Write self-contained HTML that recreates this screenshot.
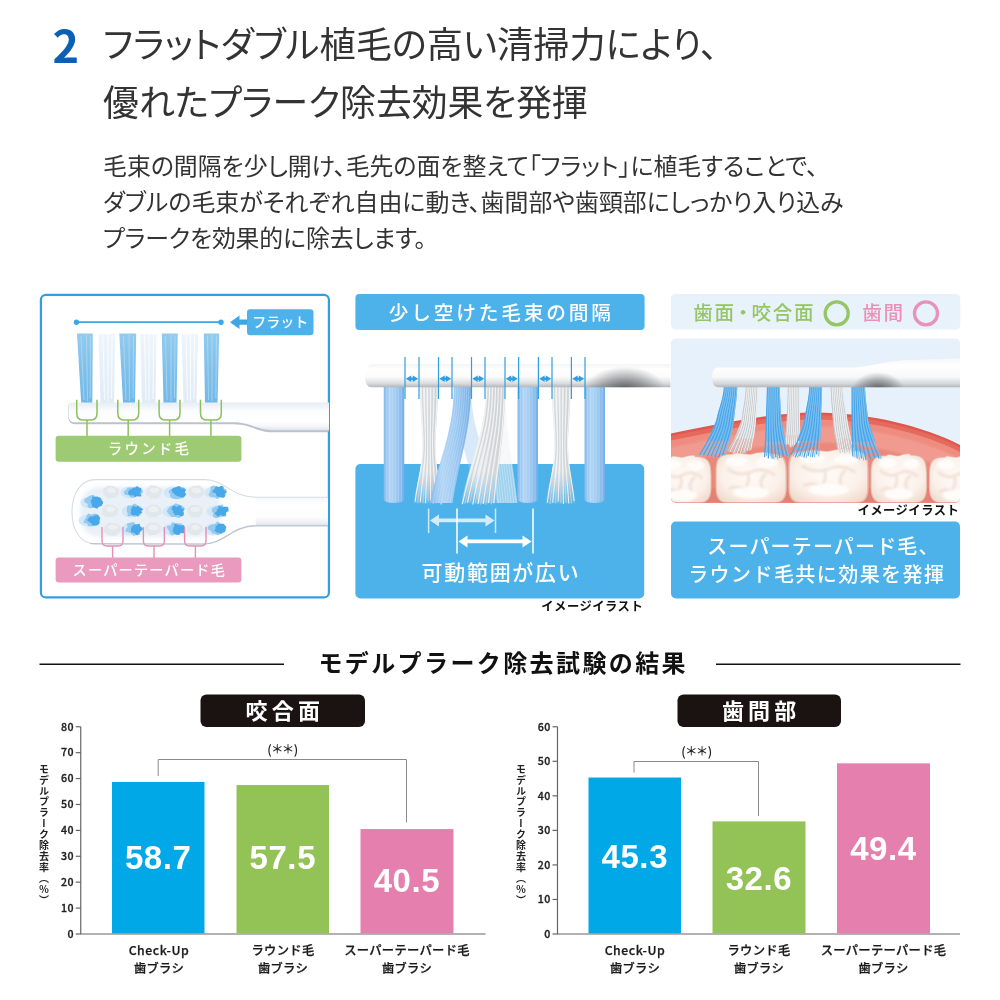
<!DOCTYPE html>
<html lang="ja">
<head>
<meta charset="utf-8">
<title>フラットダブル植毛</title>
<style>
html,body{margin:0;padding:0;background:#fff;}
body{width:1000px;height:1000px;position:relative;overflow:hidden;font-family:"Liberation Sans","Noto Sans CJK JP",sans-serif;color:#333;}
.abs{position:absolute;white-space:nowrap;}
.jp{font-family:"Noto Sans CJK JP","Liberation Sans",sans-serif;}
#num{left:52.5px;top:9.6px;font-size:45px;font-weight:700;color:#0b5fb4;line-height:68px;font-family:"Noto Sans CJK JP",sans-serif;}
.ttl{left:103px;font-size:35.8px;line-height:50px;color:#333;font-family:"Noto Sans CJK JP",sans-serif;font-feature-settings:"palt";}
.body{left:103px;font-size:23.9px;line-height:38px;color:#333;font-family:"Noto Sans CJK JP",sans-serif;font-feature-settings:"palt";}
svg{position:absolute;left:0;top:0;}
svg text{font-family:"Noto Sans CJK JP","Liberation Sans",sans-serif;}
</style>
</head>
<body>
<div class="abs" id="num">2</div>
<div class="abs ttl" style="top:16.5px;font-size:36.2px">フラットダブル植毛の高い清掃力により、</div>
<div class="abs ttl" style="top:74.6px">優れたプラーク除去効果を発揮</div>
<div class="abs body" style="top:146px">毛束の間隔を少し開け、毛先の面を整えて「フラット」に植毛することで、</div>
<div class="abs body" style="top:182px;letter-spacing:0.06px">ダブルの毛束がそれぞれ自由に動き、歯間部や歯頸部にしっかり入り込み</div>
<div class="abs body" style="top:218px;letter-spacing:-0.16px">プラークを効果的に除去します。</div>
<svg id="art" width="1000" height="1000" viewBox="0 0 1000 1000">
<!--P1S--><defs>
<linearGradient id="gBlueT" x1="0" y1="0" x2="0" y2="1"><stop offset="0" stop-color="#93cbee"/><stop offset="0.5" stop-color="#7fc0ea"/><stop offset="1" stop-color="#72b8e7"/></linearGradient>
<linearGradient id="gWhiteT" x1="0" y1="0" x2="0" y2="1"><stop offset="0" stop-color="#eef5fb"/><stop offset="1" stop-color="#dfebf6"/></linearGradient>
<linearGradient id="gHead1" x1="0" y1="0" x2="0" y2="1"><stop offset="0" stop-color="#e6edf5"/><stop offset="0.3" stop-color="#fbfcfe"/><stop offset="0.7" stop-color="#ffffff"/><stop offset="0.88" stop-color="#f1f4f8"/><stop offset="1" stop-color="#dfe5ec"/></linearGradient>
<filter id="fBlur1" x="-10%" y="-50%" width="120%" height="200%"><feGaussianBlur stdDeviation="1.4"/></filter>
<filter id="fBlur05" x="-10%" y="-10%" width="120%" height="120%"><feGaussianBlur stdDeviation="0.5"/></filter>
</defs>
<!-- panel 1 -->
<g id="panel1">
<rect x="40.9" y="294.8" width="288" height="302.6" rx="5" ry="5" fill="#fff" stroke="#2f9fe2" stroke-width="2.2"/>
<!-- flat indicator -->
<line x1="76.5" y1="322.2" x2="221" y2="322.2" stroke="#3ea6e3" stroke-width="1.8"/>
<circle cx="76.5" cy="322.2" r="2.7" fill="#3ea6e3"/><circle cx="221" cy="322.2" r="2.7" fill="#3ea6e3"/>
<path d="M230 322.2 L239.5 315.5 L239.5 319.6 L248 319.6 L248 324.8 L239.5 324.8 L239.5 328.9 Z" fill="#3ea6e3"/>
<rect x="247" y="309.2" width="66.5" height="26" rx="3.2" fill="#4db2e9"/>
<text x="280.3" y="327.3" font-size="14" font-weight="500" fill="#fff" text-anchor="middle" letter-spacing="0">フラット</text>
<!-- tufts -->
<g filter="url(#fBlur05)">
<path d="M98.5 334.5 L115.2 333.5 L114 403 L100.5 403 Z" fill="url(#gWhiteT)"/>
<path d="M140.2 334 L156.6 334.5 L155.5 403 L142 403 Z" fill="url(#gWhiteT)"/>
<path d="M181.5 334.5 L198 333.8 L196.5 403 L183.5 403 Z" fill="url(#gWhiteT)"/>
<path d="M77 333.5 L92.8 333.5 L92.3 403 L81.2 403 Z" fill="url(#gBlueT)"/>
<path d="M119.3 333.5 L136.2 333.5 L135 403 L123 403 Z" fill="url(#gBlueT)"/>
<path d="M161.8 333.5 L177.8 333.5 L176.5 403 L163.5 403 Z" fill="url(#gBlueT)"/>
<path d="M203.8 333.5 L219.2 333.5 L217.5 403 L205 403 Z" fill="url(#gBlueT)"/>
<g stroke="#b9def5" stroke-width="0.9" opacity="0.75" fill="none">
<path d="M81 336 L84 400 M86.5 335 L87.5 401 M90.5 336 L90.2 398"/>
<path d="M123.5 336 L126 400 M129 335 L129.5 401 M133.5 336 L133 398"/>
<path d="M165.5 336 L167 400 M171 335 L171 401 M175 336 L174.5 398"/>
<path d="M207.5 336 L208.5 400 M212 335 L212 401 M216.5 336 L215.8 398"/>
</g>
<g stroke="#ffffff" stroke-width="1" opacity="0.8" fill="none">
<path d="M103 335 L104.5 400 M108 334 L108 401 M112 335 L111.5 399"/>
<path d="M144.5 335 L146 400 M149 334 L149 401 M153.5 335 L153 399"/>
<path d="M186 335 L187.5 400 M190.5 334 L190.5 401 M194.5 335 L194 399"/>
</g>
</g>
<!-- head -->
<path d="M72.5 403.6 L329 403.6 L329 432.3 L272 432.3 C258 432.3 250 424.3 234 424.3 L75 424.3 C70 424.3 68 420 68 415 L68 408 C68 405 69.5 403.6 72.5 403.6 Z" fill="#aab4c0" opacity="0.8" filter="url(#fBlur05)"/>
<path d="M72.5 402.6 L329 402.6 L329 430.2 L272 430.2 C258 430.2 250 422.3 234 422.3 L75 422.3 C70 422.3 68.4 419 68.4 414 L68.4 407 C68.4 404 69.5 402.6 72.5 402.6 Z" fill="url(#gHead1)"/>
<!-- green brackets -->
<g fill="none" stroke="#8dc05e" stroke-width="1.5">
<path d="M76.7 399.8 V413.2 Q76.7 420.1 83.5 420.1 H90.2 Q97 420.1 97 413.2 V399.8 M87 420.1 V436"/>
<path d="M117.8 399.8 V413.2 Q117.8 420.1 124.6 420.1 H131.9 Q138.7 420.1 138.7 413.2 V399.8 M128.2 420.1 V436"/>
<path d="M159.1 399.8 V413.2 Q159.1 420.1 165.9 420.1 H173.2 Q180 420.1 180 413.2 V399.8 M169.6 420.1 V436"/>
<path d="M200.5 399.8 V413.2 Q200.5 420.1 207.3 420.1 H214.5 Q221.3 420.1 221.3 413.2 V399.8 M210.9 420.1 V436"/>
</g>
<rect x="55.6" y="435.8" width="185.8" height="26" rx="3" fill="#9dca72"/>
<text x="149.5" y="453.6" font-size="14.5" font-weight="500" fill="#fff" text-anchor="middle" letter-spacing="2.2">ラウンド毛</text>
</g>
<!--P1BS--><g id="panel1b">
<defs>
<linearGradient id="gNeck2" x1="0" y1="0" x2="0" y2="1"><stop offset="0" stop-color="#f3f6f9"/><stop offset="0.25" stop-color="#ffffff"/><stop offset="0.7" stop-color="#fdfdfe"/><stop offset="1" stop-color="#e4e9ef"/></linearGradient>
<filter id="fB04" x="-20%" y="-20%" width="140%" height="140%"><feGaussianBlur stdDeviation="0.45"/></filter>
<filter id="fB12" x="-20%" y="-20%" width="140%" height="140%"><feGaussianBlur stdDeviation="1.2"/></filter>
<filter id="fB2" x="-20%" y="-20%" width="140%" height="140%"><feGaussianBlur stdDeviation="2.2"/></filter>
<clipPath id="cpHead2"><path d="M96 479.6 L205 479.6 C224 479.6 232 497.2 254 497.2 L328 497.2 L328 525.4 L254 525.4 C232 525.4 224 544 203 544 L96 544 C80 544 72 530 72 512 C72 494 80 479.6 96 479.6 Z"/></clipPath>
</defs>
<rect x="236" y="497.2" width="92" height="28.2" fill="url(#gNeck2)"/>
<path d="M96 479.6 L205 479.6 C224 479.6 232 497.2 256 497.2 L256 525.4 C232 525.4 224 544 203 544 L96 544 C80 544 72 530 72 512 C72 494 80 479.6 96 479.6 Z" fill="#ffffff"/>
<g clip-path="url(#cpHead2)">
<path d="M100 487 L201 487 C213 487 222 497 222 512 C222 527 213 537 201 537 L100 537 C87 537 80 527 80 512 C80 497 87 487 100 487 Z" fill="#eaf0f7" filter="url(#fB2)"/>
</g>
<path d="M328 497.2 L256 497.2 C232 497.2 224 479.6 205 479.6 L96 479.6 C80 479.6 72 494 72 512 C72 530 80 544 96 544 L203 544 C224 544 232 525.4 256 525.4 L328 525.4" fill="none" stroke="#d3dbe4" stroke-width="1.1"/>
<path d="M90 543.6 L203 544.2 C224 544.2 232 525.8 256 525.8 L328 525.8" fill="none" stroke="#b4bfcb" stroke-width="1.2" opacity="0.8" filter="url(#fB04)"/>
<g filter="url(#fB04)">
<polygon points="118.7,494.6 114.1,497.9 107.6,498.4 103.6,494.4 103.0,489.3 107.8,485.8 114.1,486.2 119.0,489.4" fill="#e2e7eb"/>
<polygon points="115.8,490.5 114.6,492.8 110.5,493.0 107.5,491.6 107.1,489.2 110.3,487.3 114.3,488.4" fill="#edf0f3"/>
<polygon points="161.6,494.5 157.3,498.4 150.4,498.7 145.9,494.6 146.2,489.4 150.5,485.2 157.1,486.2 162.4,489.3" fill="#e2e7eb"/>
<polygon points="159.2,490.5 157.3,492.6 153.5,493.1 150.3,491.7 149.6,489.1 153.5,487.9 157.7,488.1" fill="#edf0f3"/>
<polygon points="204.1,494.7 199.2,498.2 192.6,498.3 188.6,494.4 188.6,489.5 192.9,486.0 199.4,485.6 203.9,489.5" fill="#e2e7eb"/>
<polygon points="201.2,490.5 199.7,492.9 195.4,493.4 192.3,491.7 191.6,489.1 195.3,487.4 199.4,488.3" fill="#edf0f3"/>
<polygon points="118.0,513.7 113.2,517.3 106.4,517.6 101.7,513.7 102.3,508.4 106.5,504.2 113.1,505.1 117.9,508.5" fill="#e2e7eb"/>
<polygon points="115.9,509.5 113.3,511.6 109.4,512.4 106.6,510.6 105.8,508.1 109.3,506.3 113.7,507.1" fill="#edf0f3"/>
<polygon points="161.4,513.8 156.1,517.1 149.5,517.5 144.9,513.6 145.0,508.3 149.8,504.7 156.5,504.4 161.5,508.3" fill="#e2e7eb"/>
<polygon points="158.5,509.5 156.8,512.0 152.5,512.0 148.7,510.9 148.8,508.1 152.2,506.1 156.9,506.9" fill="#edf0f3"/>
<polygon points="202.6,513.6 198.2,517.2 191.6,517.4 187.6,513.4 187.1,508.4 191.9,505.0 198.1,505.1 202.4,508.6" fill="#e2e7eb"/>
<polygon points="200.9,509.5 198.3,511.6 194.5,512.2 191.1,510.8 190.5,508.1 194.5,506.9 198.6,507.2" fill="#edf0f3"/>
<polygon points="120.0,531.7 115.4,535.7 108.5,535.6 103.6,531.7 104.4,526.4 108.8,522.8 115.3,522.9 120.5,526.3" fill="#e2e7eb"/>
<polygon points="118.2,527.5 115.3,529.6 111.5,530.1 108.4,528.7 108.4,526.3 111.4,524.6 115.7,525.1" fill="#edf0f3"/>
<polygon points="160.6,531.5 156.0,534.8 149.7,535.2 145.2,531.5 145.0,526.3 149.5,522.2 156.5,522.5 161.0,526.4" fill="#e2e7eb"/>
<polygon points="158.7,527.5 156.8,530.0 152.5,530.0 148.5,529.0 148.6,526.1 152.3,524.2 156.9,524.9" fill="#edf0f3"/>
<polygon points="202.8,531.6 198.2,535.2 191.9,534.9 186.9,531.6 187.6,526.5 192.0,523.1 198.2,523.0 202.5,526.6" fill="#e2e7eb"/>
<polygon points="200.3,527.5 198.2,529.5 194.6,530.0 191.5,528.7 191.5,526.4 194.4,524.7 198.2,525.5" fill="#edf0f3"/>
<ellipse cx="129.5" cy="492.5" rx="9" ry="6" fill="#cfe7f8" opacity="0.9"/>
<polygon points="143.0,492.0 141.3,494.5 138.2,495.7 136.2,497.1 133.5,497.8 130.6,497.4 128.9,495.6 124.8,494.8 123.5,492.0 126.2,489.6 127.9,487.6 131.1,487.4 133.5,487.0 136.3,486.6 138.5,488.1 142.1,489.2" fill="#8cc8f0" opacity="0.9"/>
<polygon points="140.7,492.0 140.0,493.3 141.8,496.2 139.0,496.6 136.6,496.0 134.7,497.3 133.6,495.2 131.0,495.4 128.3,494.3 128.2,492.0 129.3,490.0 131.7,489.1 132.9,487.9 134.9,487.9 137.1,486.0 139.0,487.4 141.3,488.1 141.0,490.4" fill="#4aa8e9"/>
<ellipse cx="172.5" cy="492.5" rx="9" ry="6" fill="#cfe7f8" opacity="0.9"/>
<polygon points="183.4,492.0 185.0,494.8 183.5,497.5 180.1,498.8 176.5,499.3 173.0,498.7 170.2,497.0 170.1,494.1 168.4,492.0 169.6,489.8 172.2,488.6 174.2,487.6 176.5,486.4 179.2,486.9 182.7,487.1 185.6,489.0" fill="#8cc8f0" opacity="0.9"/>
<polygon points="184.8,492.0 186.2,494.2 184.9,496.3 182.7,497.7 179.8,496.7 177.9,496.3 176.2,495.8 174.9,494.7 174.0,493.5 172.1,492.0 171.6,489.8 173.1,488.0 175.7,487.6 177.6,486.4 180.1,486.0 181.1,488.6 184.0,488.3 186.1,489.8" fill="#4aa8e9"/>
<ellipse cx="213.5" cy="492.5" rx="9" ry="6" fill="#cfe7f8" opacity="0.9"/>
<polygon points="226.6,492.0 225.8,494.7 223.1,496.4 220.1,496.9 217.5,499.2 214.7,497.3 211.0,497.1 208.4,495.0 209.9,492.0 210.5,489.7 210.6,486.6 214.1,485.5 217.5,486.7 220.0,487.3 222.2,488.3 226.4,489.1" fill="#8cc8f0" opacity="0.9"/>
<polygon points="227.1,492.0 224.4,493.4 225.5,496.0 223.8,497.8 221.0,497.6 218.8,496.7 216.6,496.6 216.1,494.6 215.7,493.3 211.8,492.0 213.5,490.1 215.0,488.6 215.9,486.3 218.8,487.1 221.1,485.7 223.5,486.6 223.7,489.2 224.8,490.5" fill="#4aa8e9"/>
<ellipse cx="130.5" cy="511.5" rx="9" ry="6" fill="#cfe7f8" opacity="0.9"/>
<polygon points="141.7,511.0 140.9,513.1 140.4,515.6 137.2,516.1 134.5,517.0 132.0,515.7 127.7,516.4 127.6,513.2 126.7,511.0 126.8,508.5 127.7,505.6 131.6,505.4 134.5,503.4 137.6,505.2 140.2,506.5 142.0,508.6" fill="#8cc8f0" opacity="0.9"/>
<polygon points="141.2,511.0 142.4,512.7 140.6,513.7 139.0,514.2 138.1,517.0 135.9,515.1 133.7,515.4 131.4,514.8 130.8,512.8 131.2,511.0 130.9,509.2 131.9,507.5 133.2,505.7 136.0,507.1 137.9,505.7 139.4,507.2 140.9,508.1 143.6,508.9" fill="#4aa8e9"/>
<ellipse cx="171.5" cy="511.5" rx="9" ry="6" fill="#cfe7f8" opacity="0.9"/>
<polygon points="183.5,511.0 183.1,513.5 181.9,516.0 179.2,518.0 175.5,517.1 172.3,517.1 169.8,515.5 168.1,513.4 166.7,511.0 168.3,508.6 169.7,506.5 172.5,505.2 175.5,503.3 178.9,504.6 182.2,505.7 184.5,508.1" fill="#8cc8f0" opacity="0.9"/>
<polygon points="183.1,511.0 183.8,512.8 183.8,515.2 181.5,516.4 178.6,515.0 177.0,515.0 174.8,515.3 174.3,513.5 172.9,512.5 173.2,511.0 171.4,509.0 172.2,507.1 174.0,505.4 176.9,506.9 179.0,505.2 181.2,506.1 181.5,508.4 185.0,508.8" fill="#4aa8e9"/>
<ellipse cx="215.5" cy="511.5" rx="9" ry="6" fill="#cfe7f8" opacity="0.9"/>
<polygon points="229.4,511.0 225.9,513.1 226.4,516.5 222.4,516.5 219.5,517.3 215.7,518.2 212.9,516.2 213.4,513.0 211.8,511.0 212.1,508.6 214.3,506.9 216.9,506.1 219.5,505.3 222.9,504.5 223.8,507.6 227.1,508.5" fill="#8cc8f0" opacity="0.9"/>
<polygon points="227.8,511.0 225.9,512.3 226.1,514.0 225.1,515.8 222.9,516.2 221.0,514.8 217.8,516.8 216.2,514.9 214.3,513.3 217.1,511.0 216.8,509.5 218.4,508.6 218.2,505.7 220.9,506.6 222.6,507.0 224.8,506.7 227.7,506.8 228.7,508.9" fill="#4aa8e9"/>
<ellipse cx="129.5" cy="529.5" rx="9" ry="6" fill="#cfe7f8" opacity="0.9"/>
<polygon points="140.5,529.0 139.6,531.0 140.3,534.4 136.7,535.0 133.5,535.9 131.1,533.6 129.1,532.5 125.4,531.6 125.8,529.0 127.7,527.1 126.6,523.6 130.2,522.8 133.5,521.7 135.9,524.4 140.2,523.8 139.3,527.1" fill="#8cc8f0" opacity="0.9"/>
<polygon points="143.3,529.0 141.5,530.7 140.1,532.0 139.0,533.6 137.2,535.4 134.9,533.4 133.4,532.5 131.0,532.4 130.9,530.5 131.1,529.0 131.2,527.6 132.3,526.6 133.3,525.3 134.8,524.5 136.8,524.5 139.4,523.8 140.0,526.1 141.6,527.2" fill="#4aa8e9"/>
<ellipse cx="171.5" cy="529.5" rx="9" ry="6" fill="#cfe7f8" opacity="0.9"/>
<polygon points="182.2,529.0 182.3,531.2 179.8,532.4 178.2,534.1 175.5,533.8 172.1,535.5 169.7,533.6 169.3,531.0 167.6,529.0 166.5,526.1 171.0,525.4 172.0,522.3 175.5,522.9 178.6,523.2 182.1,523.8 182.5,526.7" fill="#8cc8f0" opacity="0.9"/>
<polygon points="184.0,529.0 184.3,531.0 183.9,533.3 180.6,533.1 179.1,535.1 176.6,534.8 174.4,533.9 173.3,532.2 172.5,530.6 173.3,529.0 173.3,527.6 174.3,526.5 174.3,523.8 176.9,524.6 178.7,524.9 180.1,525.6 183.5,525.0 184.9,526.8" fill="#4aa8e9"/>
<ellipse cx="213.5" cy="529.5" rx="9" ry="6" fill="#cfe7f8" opacity="0.9"/>
<polygon points="226.2,529.0 224.1,531.1 222.4,532.9 220.2,534.2 217.5,535.2 215.0,533.8 212.0,533.3 211.0,531.1 207.7,529.0 208.4,526.0 211.7,524.4 214.8,523.9 217.5,521.2 220.3,523.7 222.8,524.9 223.0,527.2" fill="#8cc8f0" opacity="0.9"/>
<polygon points="225.6,529.0 225.5,530.8 224.6,532.3 222.3,532.7 220.9,534.1 219.0,532.6 217.1,532.9 216.2,531.5 214.3,530.7 215.3,529.0 215.6,527.7 215.6,526.1 217.2,525.2 218.7,523.6 220.9,523.8 223.4,523.8 225.0,525.3 226.4,527.0" fill="#4aa8e9"/>
<ellipse cx="89.5" cy="502.5" rx="9" ry="6" fill="#cfe7f8" opacity="0.9"/>
<polygon points="103.0,502.0 100.5,504.3 98.7,506.1 97.3,509.2 93.5,507.2 90.1,508.5 87.4,506.8 87.8,503.9 84.2,502.0 84.7,499.1 87.5,497.3 90.1,495.5 93.5,494.7 96.0,497.2 99.2,497.5 100.9,499.6" fill="#8cc8f0" opacity="0.9"/>
<polygon points="103.2,502.0 102.7,504.1 101.5,506.0 99.1,506.7 97.1,508.3 94.6,507.7 92.3,507.0 91.8,504.8 91.6,503.3 91.0,502.0 90.5,500.4 92.2,499.4 92.1,496.6 94.7,496.7 97.0,496.5 99.1,497.2 101.1,498.3 101.6,500.2" fill="#4aa8e9"/>
<ellipse cx="87.5" cy="520.5" rx="9" ry="6" fill="#cfe7f8" opacity="0.9"/>
<polygon points="97.5,520.0 100.0,522.8 97.9,525.0 94.6,525.8 91.5,526.4 88.2,526.3 87.1,523.5 83.2,522.7 84.5,520.0 85.7,518.1 86.5,516.1 88.1,513.5 91.5,514.6 94.9,513.5 98.5,514.5 98.9,517.6" fill="#8cc8f0" opacity="0.9"/>
<polygon points="99.6,520.0 99.6,521.8 99.1,523.7 97.4,525.2 95.0,525.5 92.6,525.6 91.5,523.4 90.1,522.6 88.8,521.5 86.7,520.0 88.7,518.4 88.9,516.5 91.6,516.8 93.0,516.2 94.7,515.6 97.2,515.0 99.1,516.3 100.2,518.0" fill="#4aa8e9"/>
</g>
<g fill="none" stroke="#e58fb6" stroke-width="1.4">
<path d="M102.0 527 V541 Q102.0 546 107.0 546 H118.0 Q123.0 546 123.0 541 V527 M112.6 546 V558"/>
<path d="M143.4 527 V541 Q143.4 546 148.4 546 H159.4 Q164.4 546 164.4 541 V527 M154.0 546 V558"/>
<path d="M184.6 527 V541 Q184.6 546 189.6 546 H201.0 Q206.0 546 206.0 541 V527 M195.4 546 V558"/>
</g>
<rect x="55.6" y="557.4" width="185.8" height="25.2" rx="3" fill="#ea9abf"/>
<text x="149.3" y="575.2" font-size="14.2" font-weight="500" fill="#fff" text-anchor="middle" letter-spacing="1.2">スーパーテーパード毛</text>
</g>
<!--P1BE-->
<!--P2S--><g id="panel2">
<defs>
<linearGradient id="gBS" x1="0" y1="0" x2="1" y2="0"><stop offset="0" stop-color="#86bbed"/><stop offset="0.3" stop-color="#b3d5f5"/><stop offset="0.6" stop-color="#a0cbf2"/><stop offset="1" stop-color="#74aee8"/></linearGradient>
<linearGradient id="gWS" x1="0" y1="0" x2="1" y2="0"><stop offset="0" stop-color="#dfe1e3"/><stop offset="0.4" stop-color="#eeeff0"/><stop offset="0.7" stop-color="#dcdee0"/><stop offset="1" stop-color="#cfd2d5"/></linearGradient>
<linearGradient id="gFade" x1="0" y1="386" x2="0" y2="504" gradientUnits="userSpaceOnUse"><stop offset="0" stop-color="#fff"/><stop offset="0.72" stop-color="#fff"/><stop offset="1" stop-color="#222"/></linearGradient>
<mask id="mFade" maskUnits="userSpaceOnUse" x="400" y="380" width="200" height="130"><rect x="400" y="380" width="200" height="130" fill="url(#gFade)"/></mask>
<linearGradient id="gBar" x1="0" y1="0" x2="0" y2="1"><stop offset="0" stop-color="#f1f2f3"/><stop offset="0.2" stop-color="#ffffff"/><stop offset="0.55" stop-color="#fbfbfb"/><stop offset="0.82" stop-color="#dcdee0"/><stop offset="1" stop-color="#b3b6b9"/></linearGradient>
<radialGradient id="gShadow" cx="0.5" cy="0.5" r="0.5"><stop offset="0" stop-color="#4a4e52" stop-opacity="0.8"/><stop offset="0.6" stop-color="#4a4e52" stop-opacity="0.35"/><stop offset="1" stop-color="#4a4e52" stop-opacity="0"/></radialGradient>
</defs>
<rect x="355.4" y="294" width="289.2" height="36" rx="4" fill="#4cb2e9"/>
<text x="501.3" y="319.6" font-size="19.7" font-weight="500" fill="#fff" text-anchor="middle" letter-spacing="2.8">少し空けた毛束の間隔</text>
<rect x="355.4" y="464" width="288.8" height="134.4" rx="5" fill="#4cb2e9"/>
<path d="M454.5 386 L471.0 386 C471.0 431.0 486.4 453.0 499.0 503.0 L478.0 503.0 C467.4 453.0 454.5 431.0 454.5 386 Z" fill="#a9cff3" opacity="0.45"/>
<path d="M487.0 386 L505.0 386 C505.0 431.0 511.9 453.0 517.5 503.0 L497.0 503.0 C492.5 453.0 487.0 431.0 487.0 386 Z" fill="#edf0f3" opacity="0.5"/>
<g fill="none" stroke="#ffffff" stroke-width="0.7" opacity="0.45"><path d="M488.1 386 C488.1 431.0 493.7 453.0 498.3 503.0"/><path d="M490.4 386 C490.4 431.0 496.1 453.0 500.8 503.0"/><path d="M492.6 386 C492.6 431.0 498.6 453.0 503.4 503.0"/><path d="M494.9 386 C494.9 431.0 501.0 453.0 506.0 503.0"/><path d="M497.1 386 C497.1 431.0 503.4 453.0 508.5 503.0"/><path d="M499.4 386 C499.4 431.0 505.8 453.0 511.1 503.0"/><path d="M501.6 386 C501.6 431.0 508.2 453.0 513.7 503.0"/><path d="M503.9 386 C503.9 431.0 510.7 453.0 516.2 503.0"/></g>
<path d="M383.75 386 H404.25 V499 Q404.25 503 394.00 503 Q383.75 503 383.75 499 Z" fill="url(#gBS)"/>
<g stroke="#d3e7fa" stroke-width="0.6" opacity="0.55"><path d="M386.7 387 V501"/><path d="M389.6 387 V501"/><path d="M392.5 387 V501"/><path d="M395.5 387 V501"/><path d="M398.4 387 V501"/><path d="M401.3 387 V501"/></g>
<path d="M517.50 386 H538.00 V499 Q538.00 503 527.75 503 Q517.50 503 517.50 499 Z" fill="url(#gBS)"/>
<g stroke="#d3e7fa" stroke-width="0.6" opacity="0.55"><path d="M520.4 387 V501"/><path d="M523.4 387 V501"/><path d="M526.3 387 V501"/><path d="M529.2 387 V501"/><path d="M532.1 387 V501"/><path d="M535.1 387 V501"/></g>
<path d="M584.50 386 H605.00 V499 Q605.00 503 594.75 503 Q584.50 503 584.50 499 Z" fill="url(#gBS)"/>
<g stroke="#d3e7fa" stroke-width="0.6" opacity="0.55"><path d="M587.4 387 V501"/><path d="M590.4 387 V501"/><path d="M593.3 387 V501"/><path d="M596.2 387 V501"/><path d="M599.1 387 V501"/><path d="M602.1 387 V501"/></g>
<path d="M420.00 386 H438.00 C438.00 415 435.50 430 435.50 445 C435.50 470 440.50 485 442.50 503.5 L413.75 503.5 C415.75 485 422.50 470 422.50 445 C422.50 430 420.00 415 420.00 386 Z" fill="url(#gWS)" mask="url(#mFade)"/>
<g fill="none" stroke="#f3f4f5" stroke-width="1.0"><path d="M420.8 386 C420.8 411.0 423.1 427.0 423.1 445.0 S417.9 479.8 415.1 501.8"/><path d="M424.1 386 C424.1 411.0 425.5 427.0 425.5 445.0 S422.1 480.3 420.3 502.3"/><path d="M427.4 386 C427.4 411.0 427.8 427.0 427.8 445.0 S426.3 481.2 425.5 503.2"/><path d="M430.6 386 C430.6 411.0 430.2 427.0 430.2 445.0 S430.5 479.0 430.7 501.0"/><path d="M433.9 386 C433.9 411.0 432.5 427.0 432.5 445.0 S434.8 479.9 436.0 501.9"/><path d="M437.2 386 C437.2 411.0 434.9 427.0 434.9 445.0 S439.0 482.5 441.2 504.5"/></g>
<g fill="none" stroke="#cdd0d3" stroke-width="0.9"><path d="M422.5 386 C422.5 411.0 424.3 427.0 424.3 445.0 S420.0 480.9 417.7 502.9"/><path d="M425.7 386 C425.7 411.0 426.6 427.0 426.6 445.0 S424.2 481.1 422.9 503.1"/><path d="M429.0 386 C429.0 411.0 429.0 427.0 429.0 445.0 S428.4 479.2 428.1 501.2"/><path d="M432.3 386 C432.3 411.0 431.4 427.0 431.4 445.0 S432.7 481.9 433.4 503.9"/><path d="M435.5 386 C435.5 411.0 433.7 427.0 433.7 445.0 S436.9 479.8 438.6 501.8"/></g>
<path d="M552.00 386 H570.50 C570.50 415 568.00 430 568.00 445 C568.00 470 573.50 485 575.50 503.5 L546.00 503.5 C548.00 485 554.50 470 554.50 445 C554.50 430 552.00 415 552.00 386 Z" fill="url(#gWS)" mask="url(#mFade)"/>
<g fill="none" stroke="#f3f4f5" stroke-width="1.0"><path d="M552.8 386 C552.8 411.0 555.1 427.0 555.1 445.0 S550.1 480.6 547.3 502.6"/><path d="M556.2 386 C556.2 411.0 557.6 427.0 557.6 445.0 S554.4 480.7 552.7 502.7"/><path d="M559.6 386 C559.6 411.0 560.0 427.0 560.0 445.0 S558.8 479.5 558.1 501.5"/><path d="M562.9 386 C562.9 411.0 562.5 427.0 562.5 445.0 S563.1 482.0 563.4 504.0"/><path d="M566.3 386 C566.3 411.0 564.9 427.0 564.9 445.0 S567.4 481.6 568.8 503.6"/><path d="M569.7 386 C569.7 411.0 567.4 427.0 567.4 445.0 S571.8 479.2 574.2 501.2"/></g>
<g fill="none" stroke="#cdd0d3" stroke-width="0.9"><path d="M554.5 386 C554.5 411.0 556.3 427.0 556.3 445.0 S552.2 481.9 550.0 503.9"/><path d="M557.9 386 C557.9 411.0 558.8 427.0 558.8 445.0 S556.6 481.2 555.4 503.2"/><path d="M561.2 386 C561.2 411.0 561.2 427.0 561.2 445.0 S560.9 481.2 560.8 503.2"/><path d="M564.6 386 C564.6 411.0 563.7 427.0 563.7 445.0 S565.3 480.8 566.1 502.8"/><path d="M568.0 386 C568.0 411.0 566.2 427.0 566.2 445.0 S569.6 481.3 571.5 503.3"/></g>
<path d="M453.8 386 L471.0 386 C471.0 431.0 460.8 453.0 452.5 503.0 L430.0 503.0 C440.7 453.0 453.8 431.0 453.8 386 Z" fill="url(#gBS)"/>
<g fill="none" stroke="#d3e7fa" stroke-width="0.6" opacity="0.6"><path d="M455.9 386 C455.9 431.0 443.2 453.0 432.8 503.0"/><path d="M458.1 386 C458.1 431.0 445.7 453.0 435.6 503.0"/><path d="M460.2 386 C460.2 431.0 448.2 453.0 438.4 503.0"/><path d="M462.4 386 C462.4 431.0 450.8 453.0 441.2 503.0"/><path d="M464.5 386 C464.5 431.0 453.3 453.0 444.1 503.0"/><path d="M466.7 386 C466.7 431.0 455.8 453.0 446.9 503.0"/><path d="M468.8 386 C468.8 431.0 458.3 453.0 449.7 503.0"/></g>
<path d="M486.0 386 L505.0 386 C505.0 431.0 499.5 453.5 495.0 503.5 L461.0 503.5 C472.2 453.5 486.0 431.0 486.0 386 Z" fill="url(#gWS)" mask="url(#mFade)"/>
<g fill="none" stroke="#f3f4f5" stroke-width="1.1"><path d="M486.7 386 C486.7 431.0 473.3 454.2 462.3 504.2"/><path d="M489.7 386 C489.7 431.0 477.5 452.6 467.5 502.6"/><path d="M492.6 386 C492.6 431.0 481.7 454.5 472.8 504.5"/><path d="M495.5 386 C495.5 431.0 485.9 454.0 478.0 504.0"/><path d="M498.4 386 C498.4 431.0 490.1 454.0 483.2 504.0"/><path d="M501.3 386 C501.3 431.0 494.3 452.9 488.5 502.9"/><path d="M504.3 386 C504.3 431.0 498.5 453.1 493.7 503.1"/></g>
<g fill="none" stroke="#cdd0d3" stroke-width="0.9"><path d="M488.2 386 C488.2 431.0 475.4 453.6 464.9 503.6"/><path d="M491.1 386 C491.1 431.0 479.6 451.6 470.2 501.6"/><path d="M494.0 386 C494.0 431.0 483.8 453.2 475.4 503.2"/><path d="M497.0 386 C497.0 431.0 488.0 454.6 480.6 504.6"/><path d="M499.9 386 C499.9 431.0 492.2 454.7 485.8 504.7"/><path d="M502.8 386 C502.8 431.0 496.4 454.3 491.1 504.3"/></g>
<clipPath id="cpBar2"><path d="M372 364.2 H670.5 V387.3 H372 C366.5 387.3 365 382 365 376 C365 370 366.5 364.2 372 364.2 Z"/></clipPath>
<path d="M372 364.2 H670.5 V387.3 H372 C366.5 387.3 365 382 365 376 C365 370 366.5 364.2 372 364.2 Z" fill="url(#gBar)"/>
<g clip-path="url(#cpBar2)"><ellipse cx="625" cy="388.5" rx="40" ry="22" fill="url(#gShadow)"/></g>
<g stroke="#2f9fe2" stroke-width="1.2" fill="#2f9fe2">
<path d="M405.0 357 V399 M419.0 357 V399" fill="none"/>
<path d="M405.8 378.7 L411.2 375.4 L411.2 377.4 L412.8 377.4 L412.8 375.4 L418.2 378.7 L412.8 382.0 L412.8 380.0 L411.2 380.0 L411.2 382.0 Z" stroke="none"/>
<path d="M438.5 357 V399 M452.0 357 V399" fill="none"/>
<path d="M439.3 378.7 L444.7 375.4 L444.7 377.4 L445.8 377.4 L445.8 375.4 L451.2 378.7 L445.8 382.0 L445.8 380.0 L444.7 380.0 L444.7 382.0 Z" stroke="none"/>
<path d="M471.5 357 V399 M485.0 357 V399" fill="none"/>
<path d="M472.3 378.7 L477.7 375.4 L477.7 377.4 L478.8 377.4 L478.8 375.4 L484.2 378.7 L478.8 382.0 L478.8 380.0 L477.7 380.0 L477.7 382.0 Z" stroke="none"/>
<path d="M505.0 357 V399 M518.6 357 V399" fill="none"/>
<path d="M505.8 378.7 L511.2 375.4 L511.2 377.4 L512.4 377.4 L512.4 375.4 L517.8 378.7 L512.4 382.0 L512.4 380.0 L511.2 380.0 L511.2 382.0 Z" stroke="none"/>
<path d="M538.4 357 V399 M552.0 357 V399" fill="none"/>
<path d="M539.2 378.7 L544.6 375.4 L544.6 377.4 L545.8 377.4 L545.8 375.4 L551.2 378.7 L545.8 382.0 L545.8 380.0 L544.6 380.0 L544.6 382.0 Z" stroke="none"/>
<path d="M571.4 357 V399 M585.0 357 V399" fill="none"/>
<path d="M572.2 378.7 L577.6 375.4 L577.6 377.4 L578.8 377.4 L578.8 375.4 L584.2 378.7 L578.8 382.0 L578.8 380.0 L577.6 380.0 L577.6 382.0 Z" stroke="none"/>
</g>
<path d="M428.6 508.4 V533 M495.5 508.4 V533" stroke="#fff" stroke-width="1.5" opacity="0.72"/>
<path d="M430.0 520.4 L439.0 514.4 L439.0 518.5 L485.5 518.5 L485.5 514.4 L494.5 520.4 L485.5 526.4 L485.5 522.3 L439.0 522.3 L439.0 526.4 Z" fill="#fff" opacity="0.75"/>
<path d="M457 508.4 V553.4 M533 508.4 V553.4" stroke="#fff" stroke-width="1.5"/>
<path d="M458.5 541.4 L467.5 535.4 L467.5 539.5 L522.5 539.5 L522.5 535.4 L531.5 541.4 L522.5 547.4 L522.5 543.3 L467.5 543.3 L467.5 547.4 Z" fill="#fff" opacity="1"/>
<text x="501" y="579.6" font-size="21" font-weight="500" fill="#fff" text-anchor="middle" letter-spacing="1.7">可動範囲が広い</text>
<text x="643.2" y="610.8" font-size="12.3" font-weight="700" fill="#111" text-anchor="end" letter-spacing="0.5">イメージイラスト</text>
</g>
<!--P2E-->
<!--P3S--><g id="panel3">
<defs>
<clipPath id="cp3"><rect x="671" y="338.3" width="289" height="164.1" rx="5"/></clipPath>
<linearGradient id="gGum" x1="0" y1="0" x2="0" y2="1"><stop offset="0" stop-color="#e45d52"/><stop offset="0.4" stop-color="#ec7c6e"/><stop offset="1" stop-color="#f5ab9c"/></linearGradient>
<radialGradient id="gTooth" cx="0.5" cy="0.45" r="0.65"><stop offset="0" stop-color="#fffaf6"/><stop offset="0.65" stop-color="#fbf1ea"/><stop offset="1" stop-color="#f1dacd"/></radialGradient>
<linearGradient id="gBar3" x1="0" y1="0" x2="0" y2="1"><stop offset="0" stop-color="#f6f7f8"/><stop offset="0.25" stop-color="#ffffff"/><stop offset="0.65" stop-color="#f8f8f8"/><stop offset="0.88" stop-color="#d4d6d8"/><stop offset="1" stop-color="#b4b7ba"/></linearGradient>
</defs>
<rect x="671" y="294" width="289.3" height="35.6" rx="4.5" fill="#e8f2fb"/>
<text x="693.3" y="319.6" font-size="19.6" font-weight="500" fill="#96c566" letter-spacing="1.6">歯面</text>
<text x="743" y="319.6" font-size="19.6" font-weight="500" fill="#96c566" text-anchor="middle">・</text>
<text x="751.6" y="319.6" font-size="19.6" font-weight="500" fill="#96c566" letter-spacing="1.6">咬合面</text>
<circle cx="836.7" cy="313.4" r="11.5" fill="none" stroke="#96c566" stroke-width="3.3"/>
<text x="862.3" y="319.6" font-size="19.6" font-weight="500" fill="#e992b9" letter-spacing="1.6">歯間</text>
<circle cx="926" cy="313.4" r="11.5" fill="none" stroke="#e992b9" stroke-width="3.3"/>
<g clip-path="url(#cp3)">
<rect x="671" y="338.3" width="289" height="164.1" fill="#e6f1fb"/>
<path d="M671 433.5 C715 425.0 770 412.6 815 412.6 C870 412.6 925 427.0 960 445.0 V504 H671 Z" fill="#dd594d"/>
<path d="M671 436.0 C715 427.5 770 415.1 815 415.1 C870 415.1 925 429.5 960 447.5 V504 H671 Z" fill="#e5695d"/>
<path d="M671 440.5 C715 432.0 770 419.6 815 419.6 C870 419.6 925 434.0 960 452.0 V504 H671 Z" fill="#ef8c80" filter="url(#fB04)"/>
<path d="M671 447.5 C715 439.0 770 426.6 815 426.6 C870 426.6 925 441.0 960 459.0 V504 H671 Z" fill="#f19b90" filter="url(#fB12)"/>
<path d="M671 463.5 C715 455.0 770 442.6 815 442.6 C870 442.6 925 457.0 960 475.0 V504 H671 Z" fill="#ec877b" filter="url(#fB12)"/>
<rect x="671" y="488" width="289" height="16" fill="#e77f72"/>
<g>
<path d="M655.0 475.3 C655.0 461.5 658.0 456.5 670.8 457.0 C673.6 454.0 678.7 458.0 683.2 457.0 C688.9 455.0 694.5 454.0 695.7 456.5 C708.5 456.5 711.5 461.5 711.5 475.3 V488 C711.5 498 707.5 503 699.5 503 H667.0 C659.0 503 655.0 498 655.0 488 Z" fill="#e4bfae"/>
<path d="M655.0 475.3 C655.0 461.5 658.0 456.5 670.8 457.0 C673.6 454.0 678.7 458.0 683.2 457.0 C688.9 455.0 694.5 454.0 695.7 456.5 C708.5 456.5 711.5 461.5 711.5 475.3 V488 C711.5 498 707.5 503 699.5 503 H667.0 C659.0 503 655.0 498 655.0 488 Z" fill="url(#gTooth)" transform="translate(23.91,14.41) scale(0.965,0.97)"/>
<path d="M715.5 472.5 C715.5 458.5 718.5 453.5 731.5 454.0 C739.0 451.0 745.4 455.0 751.1 454.0 C758.3 452.0 765.4 451.0 770.8 453.5 C783.8 453.5 786.8 458.5 786.8 472.5 V488 C786.8 498 782.8 503 774.8 503 H727.5 C719.5 503 715.5 498 715.5 488 Z" fill="#e4bfae"/>
<path d="M715.5 472.5 C715.5 458.5 718.5 453.5 731.5 454.0 C739.0 451.0 745.4 455.0 751.1 454.0 C758.3 452.0 765.4 451.0 770.8 453.5 C783.8 453.5 786.8 458.5 786.8 472.5 V488 C786.8 498 782.8 503 774.8 503 H727.5 C719.5 503 715.5 498 715.5 488 Z" fill="url(#gTooth)" transform="translate(26.29,14.32) scale(0.965,0.97)"/>
<path d="M788.4 469.5 C788.4 455.5 791.4 450.5 804.4 451.0 C814.9 448.0 822.1 452.0 828.5 451.0 C836.5 449.0 844.5 448.0 852.6 450.5 C865.6 450.5 868.6 455.5 868.6 469.5 V488 C868.6 498 864.6 503 856.6 503 H800.4 C792.4 503 788.4 498 788.4 488 Z" fill="#e4bfae"/>
<path d="M788.4 469.5 C788.4 455.5 791.4 450.5 804.4 451.0 C814.9 448.0 822.1 452.0 828.5 451.0 C836.5 449.0 844.5 448.0 852.6 450.5 C865.6 450.5 868.6 455.5 868.6 469.5 V488 C868.6 498 864.6 503 856.6 503 H800.4 C792.4 503 788.4 498 788.4 488 Z" fill="url(#gTooth)" transform="translate(29.00,14.23) scale(0.965,0.97)"/>
<path d="M870.6 473.8 C870.6 460.0 873.6 455.0 886.4 455.5 C889.2 452.5 894.3 456.5 898.8 455.5 C904.4 453.5 910.1 452.5 911.2 455.0 C924.0 455.0 927.0 460.0 927.0 473.8 V488 C927.0 498 923.0 503 915.0 503 H882.6 C874.6 503 870.6 498 870.6 488 Z" fill="#e4bfae"/>
<path d="M870.6 473.8 C870.6 460.0 873.6 455.0 886.4 455.5 C889.2 452.5 894.3 456.5 898.8 455.5 C904.4 453.5 910.1 452.5 911.2 455.0 C924.0 455.0 927.0 460.0 927.0 473.8 V488 C927.0 498 923.0 503 915.0 503 H882.6 C874.6 503 870.6 498 870.6 488 Z" fill="url(#gTooth)" transform="translate(31.46,14.37) scale(0.965,0.97)"/>
<path d="M929.0 475.2 C929.0 461.5 932.0 456.5 944.7 457.0 C947.5 454.0 952.5 458.0 957.0 457.0 C962.6 455.0 968.2 454.0 969.3 456.5 C982.0 456.5 985.0 461.5 985.0 475.2 V488 C985.0 498 981.0 503 973.0 503 H941.0 C933.0 503 929.0 498 929.0 488 Z" fill="#e4bfae"/>
<path d="M929.0 475.2 C929.0 461.5 932.0 456.5 944.7 457.0 C947.5 454.0 952.5 458.0 957.0 457.0 C962.6 455.0 968.2 454.0 969.3 456.5 C982.0 456.5 985.0 461.5 985.0 475.2 V488 C985.0 498 981.0 503 973.0 503 H941.0 C933.0 503 929.0 498 929.0 488 Z" fill="url(#gTooth)" transform="translate(33.50,14.41) scale(0.965,0.97)"/>
</g>
<g filter="url(#fB12)" fill="none" stroke="#ecd6c9" stroke-width="2.8" stroke-linecap="round" opacity="0.65">
<path d="M665.2 472.5 q8.5 7 16.9 3 q9.6 -6 19.2 2 M680.4 475.5 q3 8 -3 17 M694.5 477.5 q-7 5 -3 15 M666.3 491.5 q5.7 -4 12.4 2"/>
<path d="M728.3 469.5 q10.7 7 21.4 3 q12.1 -6 24.2 2 M747.6 472.5 q3 8 -3 17 M765.4 474.5 q-7 5 -3 15 M729.8 488.5 q7.1 -4 15.7 2"/>
<path d="M802.8 466.5 q12.0 7 24.1 3 q13.6 -6 27.3 2 M824.5 469.5 q3 8 -3 17 M844.5 471.5 q-7 5 -3 15 M804.4 485.5 q8.0 -4 17.6 2"/>
<path d="M880.8 471.0 q8.5 7 16.9 3 q9.6 -6 19.2 2 M896.0 474.0 q3 8 -3 17 M910.1 476.0 q-7 5 -3 15 M881.9 490.0 q5.6 -4 12.4 2"/>
<path d="M939.1 472.5 q8.4 7 16.8 3 q9.5 -6 19.0 2 M954.2 475.5 q3 8 -3 17 M968.2 477.5 q-7 5 -3 15 M940.2 491.5 q5.6 -4 12.3 2"/>
</g>
<g filter="url(#fB12)" fill="#fffdfb" opacity="0.9">
<ellipse cx="672.0" cy="464.5" rx="9.0" ry="5"/>
<ellipse cx="695.7" cy="465.5" rx="8.5" ry="5"/>
<ellipse cx="683.2" cy="495.5" rx="14.1" ry="6"/>
<ellipse cx="736.9" cy="461.5" rx="11.4" ry="5"/>
<ellipse cx="766.8" cy="462.5" rx="10.7" ry="5"/>
<ellipse cx="751.1" cy="492.5" rx="17.8" ry="6"/>
<ellipse cx="812.5" cy="458.5" rx="12.8" ry="5"/>
<ellipse cx="846.1" cy="459.5" rx="12.0" ry="5"/>
<ellipse cx="828.5" cy="489.5" rx="20.1" ry="6"/>
<ellipse cx="887.5" cy="463.0" rx="9.0" ry="5"/>
<ellipse cx="911.2" cy="464.0" rx="8.5" ry="5"/>
<ellipse cx="898.8" cy="494.0" rx="14.1" ry="6"/>
<ellipse cx="945.8" cy="464.5" rx="9.0" ry="5"/>
<ellipse cx="969.3" cy="465.5" rx="8.4" ry="5"/>
<ellipse cx="957.0" cy="495.5" rx="14.0" ry="6"/>
</g>
<path d="M746.0 386 L758.2 386 C758.2 398 756.7 408 756.0 420 L753.8 438.4 L734.5 438.4 L741.7 420 C743.0 408 746.0 398 746.0 386 Z" fill="#dcdfe2"/>
<g fill="none" stroke="#c5c9cd" stroke-width="1.25"><path d="M746.4 386 C746.4 398.0 743.5 408.0 742.2 420 S734.5 437.3 728.3 451.3"/><path d="M748.2 386 C748.2 398.0 745.4 408.0 744.3 420 S737.4 438.4 731.7 452.4"/><path d="M749.9 386 C749.9 398.0 747.4 408.0 746.3 420 S740.2 439.0 735.2 453.0"/><path d="M751.7 386 C751.7 398.0 749.3 408.0 748.3 420 S743.0 437.8 738.6 451.8"/><path d="M753.4 386 C753.4 398.0 751.3 408.0 750.4 420 S745.8 439.9 742.1 453.9"/><path d="M755.2 386 C755.2 398.0 753.2 408.0 752.4 420 S748.6 439.1 745.5 453.1"/><path d="M756.9 386 C756.9 398.0 755.2 408.0 754.5 420 S751.5 437.2 749.0 451.2"/></g>
<g fill="none" stroke="#eceeef" stroke-width="1.05"><path d="M747.3 386 C747.3 398.0 744.5 408.0 743.2 420 S736.0 437.9 730.0 451.9"/><path d="M749.0 386 C749.0 398.0 746.4 408.0 745.3 420 S738.8 439.2 733.5 453.2"/><path d="M750.8 386 C750.8 398.0 748.4 408.0 747.3 420 S741.6 439.9 736.9 453.9"/><path d="M752.5 386 C752.5 398.0 750.3 408.0 749.4 420 S744.4 439.0 740.4 453.0"/><path d="M754.3 386 C754.3 398.0 752.3 408.0 751.4 420 S747.2 438.8 743.8 452.8"/><path d="M756.0 386 C756.0 398.0 754.2 408.0 753.4 420 S750.1 436.6 747.3 450.6"/><path d="M757.8 386 C757.8 398.0 756.2 408.0 755.5 420 S752.9 436.2 750.7 450.2"/></g>
<path d="M788.0 386 L800.0 386 C800.0 398 800.0 408 800.0 420 L799.5 434.7 L785.7 434.7 L786.8 420 C787.2 408 788.0 398 788.0 386 Z" fill="#dcdfe2"/>
<g fill="none" stroke="#c5c9cd" stroke-width="1.25"><path d="M788.4 386 C788.4 398.0 787.6 408.0 787.3 420 S786.1 430.4 785.1 444.4"/><path d="M790.1 386 C790.1 398.0 789.5 408.0 789.2 420 S788.1 429.7 787.2 443.7"/><path d="M791.9 386 C791.9 398.0 791.3 408.0 791.0 420 S790.0 431.2 789.2 445.2"/><path d="M793.6 386 C793.6 398.0 793.1 408.0 792.9 420 S792.0 433.2 791.3 447.2"/><path d="M795.3 386 C795.3 398.0 795.0 408.0 794.8 420 S794.0 432.9 793.3 446.9"/><path d="M797.0 386 C797.0 398.0 796.8 408.0 796.7 420 S796.0 431.7 795.4 445.7"/><path d="M798.7 386 C798.7 398.0 798.6 408.0 798.6 420 S798.0 429.3 797.5 443.3"/></g>
<g fill="none" stroke="#eceeef" stroke-width="1.05"><path d="M789.3 386 C789.3 398.0 788.5 408.0 788.2 420 S787.1 430.9 786.1 444.9"/><path d="M791.0 386 C791.0 398.0 790.4 408.0 790.1 420 S789.1 430.6 788.2 444.6"/><path d="M792.7 386 C792.7 398.0 792.2 408.0 792.0 420 S791.0 433.2 790.3 447.2"/><path d="M794.4 386 C794.4 398.0 794.0 408.0 793.9 420 S793.0 431.6 792.3 445.6"/><path d="M796.1 386 C796.1 398.0 795.9 408.0 795.8 420 S795.0 430.8 794.4 444.8"/><path d="M797.9 386 C797.9 398.0 797.7 408.0 797.6 420 S797.0 430.0 796.4 444.0"/><path d="M799.6 386 C799.6 398.0 799.5 408.0 799.5 420 S799.0 431.3 798.5 445.3"/></g>
<path d="M830.8 386 L843.0 386 C843.0 398 846.0 408 847.3 420 L850.6 438.4 L835.2 438.4 L833.0 420 C832.3 408 830.8 398 830.8 386 Z" fill="#dcdfe2"/>
<g fill="none" stroke="#c5c9cd" stroke-width="1.25"><path d="M831.2 386 C831.2 398.0 832.8 408.0 833.5 420 S836.0 436.1 838.0 450.1"/><path d="M833.0 386 C833.0 398.0 834.8 408.0 835.6 420 S838.2 438.9 840.4 452.9"/><path d="M834.7 386 C834.7 398.0 836.7 408.0 837.6 420 S840.4 437.8 842.7 451.8"/><path d="M836.5 386 C836.5 398.0 838.7 408.0 839.6 420 S842.6 439.2 845.1 453.2"/><path d="M838.2 386 C838.2 398.0 840.6 408.0 841.7 420 S844.9 437.9 847.5 451.9"/><path d="M840.0 386 C840.0 398.0 842.6 408.0 843.7 420 S847.1 438.5 849.9 452.5"/><path d="M841.7 386 C841.7 398.0 844.5 408.0 845.8 420 S849.3 438.3 852.2 452.3"/></g>
<g fill="none" stroke="#eceeef" stroke-width="1.05"><path d="M832.1 386 C832.1 398.0 833.8 408.0 834.5 420 S837.1 436.5 839.2 450.5"/><path d="M833.8 386 C833.8 398.0 835.8 408.0 836.6 420 S839.3 439.0 841.5 453.0"/><path d="M835.6 386 C835.6 398.0 837.7 408.0 838.6 420 S841.5 440.0 843.9 454.0"/><path d="M837.3 386 C837.3 398.0 839.7 408.0 840.7 420 S843.8 439.6 846.3 453.6"/><path d="M839.1 386 C839.1 398.0 841.6 408.0 842.7 420 S846.0 439.5 848.7 453.5"/><path d="M840.8 386 C840.8 398.0 843.6 408.0 844.7 420 S848.2 438.9 851.0 452.9"/><path d="M842.6 386 C842.6 398.0 845.5 408.0 846.8 420 S850.4 436.4 853.4 450.4"/></g>
<path d="M724.0 386 L737.3 386 C737.3 398 735.0 408 734.0 420 L729.6 440.8 L707.6 440.8 L716.4 420 C718.7 408 724.0 398 724.0 386 Z" fill="#62b3ec"/>
<g fill="none" stroke="#4aa5e8" stroke-width="1.25"><path d="M724.5 386 C724.5 398.0 719.3 408.0 717.0 420 S707.5 441.0 699.7 455.0"/><path d="M726.4 386 C726.4 398.0 721.6 408.0 719.5 420 S710.7 441.1 703.5 455.1"/><path d="M728.3 386 C728.3 398.0 723.9 408.0 722.1 420 S713.9 442.2 707.3 456.2"/><path d="M730.2 386 C730.2 398.0 726.3 408.0 724.6 420 S717.1 442.1 711.1 456.1"/><path d="M732.1 386 C732.1 398.0 728.6 408.0 727.1 420 S720.3 442.7 714.8 456.7"/><path d="M734.0 386 C734.0 398.0 730.9 408.0 729.6 420 S723.6 443.3 718.6 457.3"/><path d="M735.9 386 C735.9 398.0 733.2 408.0 732.1 420 S726.8 441.2 722.4 455.2"/></g>
<g fill="none" stroke="#7cc0f0" stroke-width="1.05"><path d="M725.4 386 C725.4 398.0 720.4 408.0 718.3 420 S709.1 440.8 701.6 454.8"/><path d="M727.3 386 C727.3 398.0 722.8 408.0 720.8 420 S712.3 441.2 705.4 455.2"/><path d="M729.2 386 C729.2 398.0 725.1 408.0 723.3 420 S715.5 443.4 709.2 457.4"/><path d="M731.1 386 C731.1 398.0 727.4 408.0 725.8 420 S718.7 444.0 712.9 458.0"/><path d="M733.0 386 C733.0 398.0 729.7 408.0 728.3 420 S721.9 442.2 716.7 456.2"/><path d="M734.9 386 C734.9 398.0 732.1 408.0 730.9 420 S725.2 442.0 720.5 456.0"/><path d="M736.8 386 C736.8 398.0 734.4 408.0 733.4 420 S728.4 441.3 724.3 455.3"/></g>
<path d="M767.0 386 L779.8 386 C779.8 398 780.8 408 781.3 420 L785.6 441.4 L764.9 441.4 L766.0 420 C766.3 408 767.0 398 767.0 386 Z" fill="#62b3ec"/>
<g fill="none" stroke="#4aa5e8" stroke-width="1.25"><path d="M767.5 386 C767.5 398.0 766.8 408.0 766.5 420 S765.5 443.1 764.6 457.1"/><path d="M769.3 386 C769.3 398.0 768.9 408.0 768.7 420 S768.5 444.5 768.4 458.5"/><path d="M771.1 386 C771.1 398.0 771.0 408.0 770.9 420 S771.6 444.6 772.2 458.6"/><path d="M772.9 386 C772.9 398.0 773.1 408.0 773.1 420 S774.6 443.4 775.9 457.4"/><path d="M774.8 386 C774.8 398.0 775.1 408.0 775.3 420 S777.7 444.0 779.7 458.0"/><path d="M776.6 386 C776.6 398.0 777.2 408.0 777.5 420 S780.7 442.3 783.4 456.3"/><path d="M778.4 386 C778.4 398.0 779.3 408.0 779.7 420 S783.8 442.0 787.2 456.0"/></g>
<g fill="none" stroke="#7cc0f0" stroke-width="1.05"><path d="M768.4 386 C768.4 398.0 767.9 408.0 767.6 420 S767.0 441.7 766.5 455.7"/><path d="M770.2 386 C770.2 398.0 769.9 408.0 769.8 420 S770.1 442.3 770.3 456.3"/><path d="M772.0 386 C772.0 398.0 772.0 408.0 772.0 420 S773.1 445.2 774.0 459.2"/><path d="M773.9 386 C773.9 398.0 774.1 408.0 774.2 420 S776.2 445.4 777.8 459.4"/><path d="M775.7 386 C775.7 398.0 776.2 408.0 776.4 420 S779.2 444.2 781.5 458.2"/><path d="M777.5 386 C777.5 398.0 778.3 408.0 778.6 420 S782.3 442.0 785.3 456.0"/><path d="M779.3 386 C779.3 398.0 780.3 408.0 780.8 420 S785.3 443.8 789.1 457.8"/></g>
<path d="M809.5 386 L822.0 386 C822.0 398 821.3 408 821.0 420 L820.4 440.8 L797.2 440.8 L804.4 420 C805.9 408 809.5 398 809.5 386 Z" fill="#62b3ec"/>
<g fill="none" stroke="#4aa5e8" stroke-width="1.25"><path d="M809.9 386 C809.9 398.0 806.5 408.0 805.0 420 S797.3 440.5 791.1 454.5"/><path d="M811.7 386 C811.7 398.0 808.7 408.0 807.4 420 S800.7 443.2 795.3 457.2"/><path d="M813.5 386 C813.5 398.0 810.9 408.0 809.7 420 S804.1 442.3 799.6 456.3"/><path d="M815.3 386 C815.3 398.0 813.1 408.0 812.1 420 S807.6 443.5 803.8 457.5"/><path d="M817.1 386 C817.1 398.0 815.3 408.0 814.5 420 S811.0 442.1 808.1 456.1"/><path d="M818.9 386 C818.9 398.0 817.5 408.0 816.9 420 S814.4 443.2 812.3 457.2"/><path d="M820.7 386 C820.7 398.0 819.7 408.0 819.2 420 S817.8 440.4 816.6 454.4"/></g>
<g fill="none" stroke="#7cc0f0" stroke-width="1.05"><path d="M810.8 386 C810.8 398.0 807.6 408.0 806.2 420 S799.0 442.4 793.2 456.4"/><path d="M812.6 386 C812.6 398.0 809.8 408.0 808.5 420 S802.4 443.6 797.5 457.6"/><path d="M814.4 386 C814.4 398.0 812.0 408.0 810.9 420 S805.9 442.7 801.7 456.7"/><path d="M816.2 386 C816.2 398.0 814.2 408.0 813.3 420 S809.3 444.2 806.0 458.2"/><path d="M818.0 386 C818.0 398.0 816.4 408.0 815.7 420 S812.7 443.4 810.2 457.4"/><path d="M819.8 386 C819.8 398.0 818.6 408.0 818.0 420 S816.1 443.0 814.5 457.0"/><path d="M821.6 386 C821.6 398.0 820.8 408.0 820.4 420 S819.5 442.5 818.7 456.5"/></g>
<path d="M851.7 386 L865.0 386 C865.0 398 867.2 408 868.2 420 L875.4 442.0 L851.7 442.0 L851.7 420 C851.7 408 851.7 398 851.7 386 Z" fill="#62b3ec"/>
<g fill="none" stroke="#4aa5e8" stroke-width="1.25"><path d="M852.2 386 C852.2 398.0 852.3 408.0 852.3 420 S852.6 442.4 852.8 456.4"/><path d="M854.1 386 C854.1 398.0 854.5 408.0 854.6 420 S856.1 444.5 857.2 458.5"/><path d="M856.0 386 C856.0 398.0 856.7 408.0 857.0 420 S859.5 444.5 861.6 458.5"/><path d="M857.9 386 C857.9 398.0 858.9 408.0 859.4 420 S863.0 445.8 866.0 459.8"/><path d="M859.8 386 C859.8 398.0 861.1 408.0 861.7 420 S866.5 444.8 870.4 458.8"/><path d="M861.7 386 C861.7 398.0 863.4 408.0 864.1 420 S870.0 443.5 874.8 457.5"/><path d="M863.6 386 C863.6 398.0 865.6 408.0 866.4 420 S873.5 444.4 879.2 458.4"/></g>
<g fill="none" stroke="#7cc0f0" stroke-width="1.05"><path d="M853.1 386 C853.1 398.0 853.4 408.0 853.5 420 S854.3 443.5 855.0 457.5"/><path d="M855.0 386 C855.0 398.0 855.6 408.0 855.8 420 S857.8 445.7 859.4 459.7"/><path d="M856.9 386 C856.9 398.0 857.8 408.0 858.2 420 S861.3 446.5 863.8 460.5"/><path d="M858.8 386 C858.8 398.0 860.0 408.0 860.5 420 S864.8 445.2 868.2 459.2"/><path d="M860.7 386 C860.7 398.0 862.2 408.0 862.9 420 S868.2 444.1 872.6 458.1"/><path d="M862.6 386 C862.6 398.0 864.5 408.0 865.3 420 S871.7 443.3 877.0 457.3"/><path d="M864.5 386 C864.5 398.0 866.7 408.0 867.6 420 S875.2 444.9 881.4 458.9"/></g>
<clipPath id="cpBar3"><path d="M719 367.6 H850 C868 367.6 882 361.5 908 360 L960 358.5 V387.2 H719 C713.5 387.2 712 382 712 377.4 C712 372.5 713.5 367.6 719 367.6 Z"/></clipPath>
<path d="M719 367.6 H850 C868 367.6 882 361.5 908 360 L960 358.5 V387.2 H719 C713.5 387.2 712 382 712 377.4 C712 372.5 713.5 367.6 719 367.6 Z" fill="url(#gBar3)"/>
<g clip-path="url(#cpBar3)"><ellipse cx="878" cy="389" rx="26" ry="17" fill="url(#gShadow)"/></g>
</g>
<text x="959.3" y="515" font-size="12.3" font-weight="700" fill="#111" text-anchor="end" letter-spacing="0.5">イメージイラスト</text>
<rect x="671" y="521.5" width="289" height="77" rx="5" fill="#4cb2e9"/>
<text x="707.3" y="553.6" font-size="20" font-weight="500" fill="#fff" letter-spacing="1.16">スーパーテーパード毛、</text>
<text x="688.2" y="581.6" font-size="20" font-weight="500" fill="#fff" letter-spacing="1.43">ラウンド毛共に効果を発揮</text>
</g>
<!--P3E-->
<!--CHS--><g id="charts">
<path d="M39.5 664.2 H284" stroke="#111" stroke-width="1.5"/>
<path d="M716 664.2 H960.5" stroke="#111" stroke-width="1.5"/>
<text x="503.2" y="671.8" font-size="24" font-weight="700" fill="#111" text-anchor="middle" letter-spacing="2.4">モデルプラーク除去試験の結果</text>
<rect x="200.5" y="694.5" width="164.5" height="32.5" rx="6" fill="#1a1311"/>
<text x="284.8" y="718.6" font-size="22" font-weight="700" fill="#fff" text-anchor="middle" letter-spacing="4.2">咬合面</text>
<path d="M80.75 726.75 V934.00 H485.5" fill="none" stroke="#666" stroke-width="1.2"/>
<path d="M75.75 934.00 H80.75" stroke="#666" stroke-width="1.2"/>
<text x="73.8" y="937.7" font-size="10.6" font-weight="500" fill="#222" stroke="#222" stroke-width="0.3" text-anchor="end" letter-spacing="0.3">0</text>
<path d="M75.75 908.09 H80.75" stroke="#666" stroke-width="1.2"/>
<text x="73.8" y="911.8" font-size="10.6" font-weight="500" fill="#222" stroke="#222" stroke-width="0.3" text-anchor="end" letter-spacing="0.3">10</text>
<path d="M75.75 882.19 H80.75" stroke="#666" stroke-width="1.2"/>
<text x="73.8" y="885.9" font-size="10.6" font-weight="500" fill="#222" stroke="#222" stroke-width="0.3" text-anchor="end" letter-spacing="0.3">20</text>
<path d="M75.75 856.28 H80.75" stroke="#666" stroke-width="1.2"/>
<text x="73.8" y="860.0" font-size="10.6" font-weight="500" fill="#222" stroke="#222" stroke-width="0.3" text-anchor="end" letter-spacing="0.3">30</text>
<path d="M75.75 830.38 H80.75" stroke="#666" stroke-width="1.2"/>
<text x="73.8" y="834.1" font-size="10.6" font-weight="500" fill="#222" stroke="#222" stroke-width="0.3" text-anchor="end" letter-spacing="0.3">40</text>
<path d="M75.75 804.47 H80.75" stroke="#666" stroke-width="1.2"/>
<text x="73.8" y="808.2" font-size="10.6" font-weight="500" fill="#222" stroke="#222" stroke-width="0.3" text-anchor="end" letter-spacing="0.3">50</text>
<path d="M75.75 778.56 H80.75" stroke="#666" stroke-width="1.2"/>
<text x="73.8" y="782.3" font-size="10.6" font-weight="500" fill="#222" stroke="#222" stroke-width="0.3" text-anchor="end" letter-spacing="0.3">60</text>
<path d="M75.75 752.66 H80.75" stroke="#666" stroke-width="1.2"/>
<text x="73.8" y="756.4" font-size="10.6" font-weight="500" fill="#222" stroke="#222" stroke-width="0.3" text-anchor="end" letter-spacing="0.3">70</text>
<path d="M75.75 726.75 H80.75" stroke="#666" stroke-width="1.2"/>
<text x="73.8" y="730.5" font-size="10.6" font-weight="500" fill="#222" stroke="#222" stroke-width="0.3" text-anchor="end" letter-spacing="0.3">80</text>
<rect x="112.0" y="781.93" width="92.5" height="151.47" fill="#00a8e8"/>
<text x="158.2" y="869.0" font-size="33" font-weight="700" fill="#fff" text-anchor="middle" letter-spacing="0.6" style="font-family:'Liberation Sans',sans-serif">58.7</text>
<rect x="236.5" y="785.04" width="92.5" height="148.36" fill="#93c356"/>
<text x="282.8" y="869.0" font-size="33" font-weight="700" fill="#fff" text-anchor="middle" letter-spacing="0.6" style="font-family:'Liberation Sans',sans-serif">57.5</text>
<rect x="360.5" y="829.08" width="93.0" height="104.32" fill="#e57fae"/>
<text x="407.0" y="891.5" font-size="33" font-weight="700" fill="#fff" text-anchor="middle" letter-spacing="0.6" style="font-family:'Liberation Sans',sans-serif">40.5</text>
<path d="M158.2 776.0 V759.5 H406.5 V822.5" fill="none" stroke="#8a8a8a" stroke-width="1"/>
<text x="283.0" y="754" font-size="12.5" font-weight="500" fill="#222" text-anchor="middle" letter-spacing="0.5" style="font-feature-settings:'palt'">(＊＊)</text>
<text x="44.0" y="764" font-size="10" font-weight="700" fill="#222" style="writing-mode:vertical-rl" letter-spacing="0.9">モデルプラーク除去率（％）</text>
<text x="159.0" y="955.3" font-size="12.3" font-weight="500" fill="#1a1a1a" stroke="#1a1a1a" stroke-width="0.25" text-anchor="middle" letter-spacing="0.55">Check-Up</text>
<text x="159.0" y="973" font-size="12.3" font-weight="500" fill="#1a1a1a" stroke="#1a1a1a" stroke-width="0.25" text-anchor="middle" letter-spacing="0.3">歯ブラシ</text>
<text x="283.0" y="955.3" font-size="12.3" font-weight="500" fill="#1a1a1a" stroke="#1a1a1a" stroke-width="0.25" text-anchor="middle" letter-spacing="0.3">ラウンド毛</text>
<text x="283.0" y="973" font-size="12.3" font-weight="500" fill="#1a1a1a" stroke="#1a1a1a" stroke-width="0.25" text-anchor="middle" letter-spacing="0.3">歯ブラシ</text>
<text x="407.0" y="955.3" font-size="12.3" font-weight="500" fill="#1a1a1a" stroke="#1a1a1a" stroke-width="0.25" text-anchor="middle" letter-spacing="0.3">スーパーテーパード毛</text>
<text x="407.0" y="973" font-size="12.3" font-weight="500" fill="#1a1a1a" stroke="#1a1a1a" stroke-width="0.25" text-anchor="middle" letter-spacing="0.3">歯ブラシ</text>
<rect x="677.5" y="694.5" width="163.5" height="32.5" rx="6" fill="#1a1311"/>
<text x="761.2" y="718.6" font-size="22" font-weight="700" fill="#fff" text-anchor="middle" letter-spacing="4.2">歯間部</text>
<path d="M557.50 726.75 V934.00 H960.0" fill="none" stroke="#666" stroke-width="1.2"/>
<path d="M552.50 934.00 H557.50" stroke="#666" stroke-width="1.2"/>
<text x="550.5" y="937.7" font-size="10.6" font-weight="500" fill="#222" stroke="#222" stroke-width="0.3" text-anchor="end" letter-spacing="0.3">0</text>
<path d="M552.50 899.46 H557.50" stroke="#666" stroke-width="1.2"/>
<text x="550.5" y="903.2" font-size="10.6" font-weight="500" fill="#222" stroke="#222" stroke-width="0.3" text-anchor="end" letter-spacing="0.3">10</text>
<path d="M552.50 864.92 H557.50" stroke="#666" stroke-width="1.2"/>
<text x="550.5" y="868.6" font-size="10.6" font-weight="500" fill="#222" stroke="#222" stroke-width="0.3" text-anchor="end" letter-spacing="0.3">20</text>
<path d="M552.50 830.38 H557.50" stroke="#666" stroke-width="1.2"/>
<text x="550.5" y="834.1" font-size="10.6" font-weight="500" fill="#222" stroke="#222" stroke-width="0.3" text-anchor="end" letter-spacing="0.3">30</text>
<path d="M552.50 795.83 H557.50" stroke="#666" stroke-width="1.2"/>
<text x="550.5" y="799.5" font-size="10.6" font-weight="500" fill="#222" stroke="#222" stroke-width="0.3" text-anchor="end" letter-spacing="0.3">40</text>
<path d="M552.50 761.29 H557.50" stroke="#666" stroke-width="1.2"/>
<text x="550.5" y="765.0" font-size="10.6" font-weight="500" fill="#222" stroke="#222" stroke-width="0.3" text-anchor="end" letter-spacing="0.3">50</text>
<path d="M552.50 726.75 H557.50" stroke="#666" stroke-width="1.2"/>
<text x="550.5" y="730.5" font-size="10.6" font-weight="500" fill="#222" stroke="#222" stroke-width="0.3" text-anchor="end" letter-spacing="0.3">60</text>
<rect x="588.5" y="777.53" width="92.5" height="155.87" fill="#00a8e8"/>
<text x="634.8" y="868.0" font-size="33" font-weight="700" fill="#fff" text-anchor="middle" letter-spacing="0.6" style="font-family:'Liberation Sans',sans-serif">45.3</text>
<rect x="712.5" y="821.39" width="93.0" height="112.01" fill="#93c356"/>
<text x="759.0" y="890.0" font-size="33" font-weight="700" fill="#fff" text-anchor="middle" letter-spacing="0.6" style="font-family:'Liberation Sans',sans-serif">32.6</text>
<rect x="837.0" y="763.36" width="93.0" height="170.04" fill="#e57fae"/>
<text x="883.5" y="860.0" font-size="33" font-weight="700" fill="#fff" text-anchor="middle" letter-spacing="0.6" style="font-family:'Liberation Sans',sans-serif">49.4</text>
<path d="M634.0 772.5 V761.5 H758.5 V816.0" fill="none" stroke="#8a8a8a" stroke-width="1"/>
<text x="697.0" y="756" font-size="12.5" font-weight="500" fill="#222" text-anchor="middle" letter-spacing="0.5" style="font-feature-settings:'palt'">(＊＊)</text>
<text x="521.0" y="764" font-size="10" font-weight="700" fill="#222" style="writing-mode:vertical-rl" letter-spacing="0.9">モデルプラーク除去率（％）</text>
<text x="635.0" y="955.3" font-size="12.3" font-weight="500" fill="#1a1a1a" stroke="#1a1a1a" stroke-width="0.25" text-anchor="middle" letter-spacing="0.55">Check-Up</text>
<text x="635.0" y="973" font-size="12.3" font-weight="500" fill="#1a1a1a" stroke="#1a1a1a" stroke-width="0.25" text-anchor="middle" letter-spacing="0.3">歯ブラシ</text>
<text x="759.0" y="955.3" font-size="12.3" font-weight="500" fill="#1a1a1a" stroke="#1a1a1a" stroke-width="0.25" text-anchor="middle" letter-spacing="0.3">ラウンド毛</text>
<text x="759.0" y="973" font-size="12.3" font-weight="500" fill="#1a1a1a" stroke="#1a1a1a" stroke-width="0.25" text-anchor="middle" letter-spacing="0.3">歯ブラシ</text>
<text x="883.5" y="955.3" font-size="12.3" font-weight="500" fill="#1a1a1a" stroke="#1a1a1a" stroke-width="0.25" text-anchor="middle" letter-spacing="0.3">スーパーテーパード毛</text>
<text x="883.5" y="973" font-size="12.3" font-weight="500" fill="#1a1a1a" stroke="#1a1a1a" stroke-width="0.25" text-anchor="middle" letter-spacing="0.3">歯ブラシ</text>
</g>
<!--CHE-->
</svg>
</body>
</html>
